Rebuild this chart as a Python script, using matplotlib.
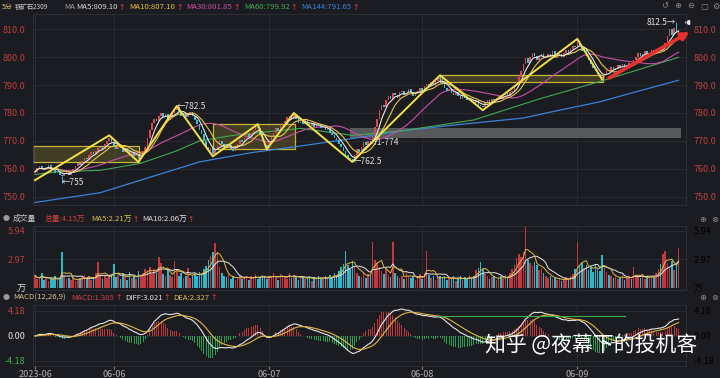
import numpy as np
import pandas as pd
import matplotlib
matplotlib.use('Agg')
import matplotlib.pyplot as plt
from matplotlib.patches import Rectangle

plt.rcParams['font.family'] = ['Noto Sans CJK SC', 'DejaVu Sans']
plt.rcParams['axes.unicode_minus'] = False

# 5-minute closes (index 0 = first bar)
closes = [
    759.0, 760.5, 761.0, 760.0, 759.5, 760.5, 761.5, 760.0, 759.5, 758.5, 759.0, 758.0, 757.5,
    758.5, 759.0, 758.0, 759.5, 760.0, 761.0, 762.0, 761.5,
    763.0, 764.0, 763.5, 765.0, 766.0, 765.5, 766.5, 767.5, 768.0, 767.0, 769.0, 770.0, 771.0,
    769.5, 768.0, 767.0, 768.5, 767.5, 766.0, 767.0, 766.5, 765.0, 766.0, 764.5, 765.5, 763.5,
    765.0, 766.5, 768.0, 771.0, 774.0, 776.5, 778.0, 777.0, 779.0, 780.0, 778.5, 779.5, 777.5, 778.5, 780.0, 781.0, 782.0,
    780.5, 779.0, 780.0, 778.5, 779.5, 780.5, 779.0, 777.5,
    776.0, 774.0, 772.5, 770.0, 768.0, 766.5, 767.5, 765.5,
    767.0, 768.5, 770.0, 769.0, 768.0, 767.5, 768.5, 767.0, 766.5, 768.0,
    769.0, 770.5, 769.5, 771.0, 772.5, 771.5, 773.0, 774.0, 775.0, 774.5,
    772.5, 770.0, 768.5, 768.0,
    770.0, 771.5, 773.0, 774.5, 773.5, 775.5, 776.5, 777.0, 778.5, 779.0, 778.0, 779.5,
    778.0, 776.5, 777.0, 776.0, 777.5, 776.0, 775.5, 776.5, 775.0, 776.0, 775.5, 774.5,
    775.0, 774.0, 774.5, 773.0, 772.0, 771.0, 770.5, 769.0, 768.0, 766.5, 765.0, 764.0, 763.5, 763.0,
    765.0, 767.0, 766.0, 768.0, 769.5, 768.5, 770.0, 769.0,
    772.0, 775.0, 778.0, 781.0, 783.0, 782.0, 784.5,
    786.0, 785.0, 787.0, 786.5, 785.5, 787.5, 788.0, 786.5,
    787.0, 788.5, 787.5, 786.0, 787.0, 788.0, 789.0, 788.0, 789.5, 790.5, 789.5, 791.0, 790.0, 791.5, 792.5, 792.0,
    790.5, 789.0, 788.0, 788.5, 787.0, 786.5, 787.5, 786.0, 785.0, 786.0,
    785.5, 784.5, 785.0, 784.0, 783.5, 784.5, 783.0, 782.5, 782.0,
    783.5, 784.5, 784.0, 785.0, 784.5, 785.5, 786.0, 785.0, 786.5, 787.0, 786.0, 787.5, 788.0,
    789.5, 791.0, 793.0, 795.0, 797.5, 799.5, 798.0, 800.0, 801.5, 800.5, 799.0, 800.5, 801.0, 799.5, 800.0, 801.0, 800.5, 802.0,
    799.5, 800.5, 801.0, 800.0, 801.5, 802.5, 801.5, 803.0, 804.0, 803.5, 805.5,
    804.0, 802.0, 803.0, 800.5, 799.0, 797.5, 796.0, 795.0, 794.0, 793.0, 792.5,
    794.0, 795.5, 795.0, 796.5, 795.5, 796.0, 797.0, 796.5, 797.5, 796.5, 797.0, 798.0, 797.5,
    799.0, 800.0, 801.5, 800.5, 801.0, 802.0, 800.5, 801.5, 802.5, 801.5, 802.0, 803.0, 802.5, 804.0,
    805.0, 807.5, 810.0, 808.0, 810.5, 808.5, 809.5,
]
first_open = 758.5

# volume per bar, in 万 lots
volumes = [
    1.3, 0.9, 1.0, 1.6, 0.8, 1.1, 0.7, 1.0, 0.9, 1.2, 0.8, 1.0, 3.7,
    1.2, 0.9, 1.0, 0.8, 1.1, 0.7, 0.9, 1.0,
    1.1, 1.4, 0.9, 1.3, 0.8, 1.0, 1.6, 2.7, 1.2, 0.9, 1.4, 1.0, 1.3,
    1.5, 2.5, 1.1, 1.4, 0.9, 1.6, 1.2, 0.8, 1.7, 1.0, 1.3, 0.9, 1.8,
    1.4, 1.6, 2.0, 1.8, 2.2, 1.5, 1.9, 1.6, 3.2, 2.6, 1.5, 1.2, 1.9, 1.4, 1.1, 2.8, 2.0,
    1.3, 1.6, 1.0, 1.2, 2.1, 1.0, 1.4, 1.5,
    1.3, 1.7, 1.4, 2.0, 2.3, 2.9, 3.3, 3.7,
    4.7, 3.8, 2.2, 1.6, 1.3, 1.1, 1.5, 0.9, 1.2, 0.8, 1.0, 1.4, 0.9, 1.1, 1.3, 0.8, 1.2, 1.0, 1.5, 0.9,
    1.1, 1.4, 1.2, 0.9,
    1.3, 1.0, 1.6, 1.2, 0.8, 1.5, 1.1, 1.3, 0.9, 1.6, 1.0, 1.4,
    1.2, 0.8, 1.1, 1.3, 0.9, 1.0, 1.2, 0.7, 1.1, 0.9, 1.3, 1.0,
    0.9, 1.2, 1.0, 1.4, 1.1, 1.6, 1.3, 1.8, 2.2, 2.5, 3.9, 2.4, 2.0, 2.8,
    2.2, 1.6, 1.3, 1.1, 1.7, 1.0, 1.5, 1.2,
    4.8, 2.9, 2.6, 2.2, 1.8, 1.5, 2.0,
    1.4, 1.1, 4.8, 1.6, 1.2, 1.0, 1.3, 0.9,
    1.8, 1.2, 1.0, 1.3, 0.8, 1.1, 1.5, 0.9, 1.6, 3.9, 1.4, 1.0, 1.2, 0.8, 1.1, 1.3,
    1.0, 1.2, 0.8, 1.1, 0.9, 1.3, 0.7, 1.0, 1.2, 0.8, 1.1, 0.9, 1.4, 1.0, 1.3, 1.9, 2.1, 2.7, 2.0,
    1.5, 1.2, 0.9, 1.1, 1.3, 0.8, 1.0, 1.2, 0.9, 1.4, 1.1, 1.6, 2.0,
    2.4, 3.1, 3.5, 3.2, 3.8, 6.5, 2.9, 2.6, 2.3, 2.7, 2.4, 1.9, 2.1, 1.6, 1.3, 1.0, 1.2, 0.9,
    1.1, 0.8, 1.0, 0.7, 0.9, 1.1, 0.8, 1.2, 1.5, 2.0, 4.8,
    2.3, 2.6, 2.1, 2.4, 1.9, 2.2, 1.7, 2.5, 2.0, 1.8, 3.4,
    2.1, 1.7, 1.4, 1.2, 1.0, 1.3, 0.9, 1.1, 1.4, 0.8, 1.0, 1.2, 0.9,
    2.2, 1.3, 1.1, 1.0, 1.4, 0.9, 1.2, 1.0, 1.3, 1.1, 1.6, 2.0, 2.5, 3.5,
    3.9, 2.6, 2.2, 2.8, 1.9, 2.4, 4.15,
]
assert len(closes) == len(volumes), (len(closes), len(volumes))

# long moving averages (they need history before the window)
ma60_idx = [0, 10, 29, 47, 63, 73, 88, 118, 141, 162, 195, 224, 252, 286]
ma60_val = [758.0, 759.0, 759.5, 762.0, 766.5, 770.0, 772.0, 774.5, 772.0, 773.5, 777.5, 785.0, 791.5, 799.9]
ma144_idx = [0, 29, 51, 73, 96, 118, 138, 162, 184, 217, 233, 251, 269, 286]
ma144_val = [748.0, 751.5, 757.0, 762.5, 765.8, 768.2, 770.5, 773.5, 775.5, 778.2, 781.0, 784.0, 788.0, 791.7]

# hand-drawn zigzag pivots
zz_idx = [0, 33, 46, 63, 79, 99, 103, 115, 141, 180, 199, 241, 252]
zz_price = [756.0, 772.0, 762.5, 782.5, 764.5, 776.0, 767.0, 780.0, 762.5, 793.5, 781.0, 806.5, 792.0]

# hand-drawn boxes: (start idx, end idx, low, high)
boxes = [(-0.9, 46, 762.5, 768.2), (79, 115.5, 767.1, 776.1), (180, 252.5, 791.1, 793.6)]
gray_zone = (140, 287, 771.0, 774.5)
arrow_from = (254, 792.0)
arrow_to = (292, 809.5)

wick_hi = {63: 782.5, 180: 793.5, 241: 806.5, 285: 812.5}
wick_lo = {12: 755.0, 46: 762.5, 141: 762.5}

date_idx = [0, 35, 104, 172, 241]
date_labels = ['2023-06', '06-06', '06-07', '06-08', '06-09']
price_ticks = [750, 760, 770, 780, 790, 800, 810]

# header rows: (text, colour, gap before in px, font size)
UPC = '#e23b3b'
head_price = [('5分', '#d8c070', 0, 5.0), ('铁矿石2309', '#d0d0d0', 2, 4.6), ('MA', '#a0a0a0', 16, 5.6),
              ('MA5:809.10', '#d8d8d8', 1, 5.6), ('↑', UPC, 1, 5.6), ('MA10:807.10', '#e8c547', 4, 5.6),
              ('↑', UPC, 1, 5.6), ('MA30:801.85', '#c94fa8', 4, 5.6), ('↑', UPC, 1, 5.6),
              ('MA60:799.92', '#43a853', 4, 5.6), ('↑', UPC, 1, 5.6), ('MA144:791.65', '#3b82d6', 4, 5.6),
              ('↑', UPC, 1, 5.6)]
head_vol = [('成交量', '#c8c8c8', 0, 5.6), ('总量:4.15万', '#d04040', 8, 5.6), ('MA5:2.21万', '#d8c050', 6, 5.6),
            ('↑', UPC, 1, 5.6), ('MA10:2.06万', '#e0e0e0', 3, 5.6), ('↑', UPC, 1, 5.6)]
head_macd = [('MACD(12,26,9)', '#d8c090', 0, 5.6), ('MACD:1.389', '#d04040', 6, 5.6), ('↑', UPC, 1, 5.6),
             ('DIFF:3.021', '#e0e0e0', 3, 5.6), ('↑', UPC, 1, 5.6), ('DEA:2.327', '#e0c050', 3, 5.6),
             ('↑', UPC, 1, 5.6)]

BG = '#1b1c21'
GRID = '#2b2d33'
UP = '#e0474c'
DN = '#35c2d2'
RED_TXT = '#b8403f'
ICON = '#8a8a8a'

df = pd.DataFrame({'close': closes, 'vol': volumes})
df['open'] = [first_open] + closes[:-1]
df['up'] = df['close'] >= df['open']
x = np.arange(len(df))

ma5 = df['close'].rolling(5, min_periods=1).mean()
ma10 = df['close'].rolling(10, min_periods=1).mean()
ma30 = df['close'].rolling(30, min_periods=1).mean()
vma5 = df['vol'].rolling(5, min_periods=1).mean()
vma10 = df['vol'].rolling(10, min_periods=1).mean()
ema12 = df['close'].ewm(span=12, adjust=False).mean()
ema26 = df['close'].ewm(span=26, adjust=False).mean()
diff = ema12 - ema26
dea = diff.ewm(span=9, adjust=False).mean()
hist = 2 * (diff - dea)

fig = plt.figure(figsize=(7.2, 3.78), dpi=100, facecolor=BG)
renderer = fig.canvas.get_renderer()


def px_axes(x0, y0, x1, y1):
    ax = fig.add_axes([x0 / 720, 1 - y1 / 378, (x1 - x0) / 720, (y1 - y0) / 378])
    ax.set_facecolor(BG)
    for s in ax.spines.values():
        s.set_color('#303238')
        s.set_linewidth(0.6)
    ax.set_xlim(-0.9, 289.3)
    ax.tick_params(axis='y', left=False, right=False, labelleft=True, labelright=True,
                   labelsize=6.5, pad=2)
    ax.tick_params(axis='x', bottom=False, labelbottom=False)
    for d in date_idx:
        ax.axvline(d, color=GRID, lw=0.6, zorder=0)
    return ax


def ftext(px, py, s, color, size=5.6, **kw):
    return fig.text(px / 720, 1 - py / 378, s, color=color, fontsize=size,
                    va='center', ha='left', **kw)


def chain(px, py, pieces):
    cur = px
    for s, c, gap, size in pieces:
        kw = {'family': ['DejaVu Sans']} if s == '↑' else {}
        t = ftext(cur + gap, py, s, c, size, **kw)
        cur = t.get_window_extent(renderer).x1


# ---------------- price panel
ax = px_axes(33, 14, 686, 205)
ax.set_ylim(747.1, 815.4)
ax.set_yticks(price_ticks)
ax.set_yticklabels(['%.1f' % p for p in price_ticks])
for t in ax.get_yticklabels():
    t.set_color(RED_TXT)
for p in price_ticks:
    ax.axhline(p, color=GRID, lw=0.6, zorder=0)

for (a, b, lo, hi) in boxes:
    ax.add_patch(Rectangle((a, lo), b - a, hi - lo, facecolor='#8a7a2a', alpha=0.35,
                           edgecolor='none', zorder=1))
    ax.add_patch(Rectangle((a, lo), b - a, hi - lo, facecolor='none',
                           edgecolor='#c8b43c', lw=0.9, zorder=1))
g0, g1, glo, ghi = gray_zone
ax.add_patch(Rectangle((g0, glo), g1 - g0, ghi - glo, facecolor='#6e6e70', alpha=0.75,
                       edgecolor='none', zorder=1))

ax.plot(ma144_idx, ma144_val, color='#3b82d6', lw=0.9, zorder=2)
ax.plot(ma60_idx, ma60_val, color='#43a853', lw=0.8, zorder=2)
ax.plot(x, ma30, color='#c94fa8', lw=0.8, zorder=2)

body = (df['close'] - df['open']).abs().clip(lower=0.3)
bottom = df[['close', 'open']].min(axis=1)
colors = [UP if u else DN for u in df['up']]
ax.bar(x, body, bottom=bottom, width=0.7, color=colors, zorder=3)
for i, h in wick_hi.items():
    ax.vlines(i, max(df['close'][i], df['open'][i]), h, color=colors[i], lw=0.7, zorder=3)
for i, l in wick_lo.items():
    ax.vlines(i, l, min(df['close'][i], df['open'][i]), color=colors[i], lw=0.7, zorder=3)

ax.plot(x, ma10, color='#e8c547', lw=0.8, zorder=4)
ax.plot(x, ma5, color='#e6e6e6', lw=0.8, zorder=4)
ax.plot(zz_idx, zz_price, color='#f2e14a', lw=1.4, zorder=5)

ax.annotate('', xy=arrow_to, xytext=arrow_from, annotation_clip=False, zorder=6,
            arrowprops=dict(arrowstyle='-|>', color='#e8302c', lw=2.6, mutation_scale=11))

lab = dict(color='#e0e0e0', fontsize=6, va='center', zorder=7)
ax.text(12, 755.0, '←755', ha='left', **lab)
ax.text(63, 782.5, '←782.5', ha='left', **lab)
ax.text(141, 762.5, '←762.5', ha='left', **lab)
ax.text(150, 769.6, '71-774', ha='left', **lab)
ax.text(285, 812.5, '812.5→', ha='right', **lab)
ax.plot([289.8], [812.5], marker='<', color='#e6e6e6', ms=3, clip_on=False)

# ---------------- volume panel
axv = px_axes(33, 226, 686, 290)
axv.set_ylim(-0.21, 6.46)
axv.bar(x, df['vol'], width=0.7,
        color=['#c23a3f' if u else '#2fb7c9' for u in df['up']], zorder=2)
axv.plot(x, vma10, color='#e6e6e6', lw=0.7, zorder=3)
axv.plot(x, vma5, color='#e0b840', lw=0.7, zorder=3)
axv.set_yticks([0, 2.97, 5.94])
axv.set_yticklabels(['万', '2.97', '5.94'])
for t, c in zip(axv.get_yticklabels(), ['#e0e0e0', RED_TXT, RED_TXT]):
    t.set_color(c)
for v in [2.97, 5.94]:
    axv.axhline(v, color=GRID, lw=0.6, zorder=0)

# ---------------- MACD panel
axm = px_axes(33, 305, 686, 366)
axm.set_ylim(-5.02, 5.18)
axm.bar(x, hist, width=0.45, color=['#b83a3c' if h >= 0 else '#2f9b52' for h in hist], zorder=2)
axm.plot(x, diff, color='#e6e6e6', lw=0.8, zorder=3)
axm.plot(x, dea, color='#e0b840', lw=0.8, zorder=3)
axm.plot([179, 262], [3.35, 3.35], color='#3fae4a', lw=0.8, zorder=4)
axm.set_yticks([-4.18, 0, 4.18])
axm.set_yticklabels(['-4.18', '0.00', '4.18'])
for t, c in zip(axm.get_yticklabels(), ['#3fae4a', '#e0e0e0', RED_TXT]):
    t.set_color(c)
for v in [-4.18, 0, 4.18]:
    axm.axhline(v, color=GRID, lw=0.6, zorder=0)
axm.set_xticks(date_idx)
axm.set_xticklabels(date_labels)
axm.tick_params(axis='x', bottom=True, labelbottom=True, length=2, color='#888888',
                labelcolor='#b0b0b0', labelsize=6.5, pad=1)

# ---------------- headers
chain(2, 7, head_price)
ftext(3, 219, '●', '#9a9a9a', size=5)
chain(13, 219, head_vol)
ftext(3, 298, '●', '#9a9a9a', size=5)
chain(13, 298, head_macd)

# toolbar glyphs on the right
for px, g in zip([661, 674, 687, 700, 712], ['↺', '⊕', '⊖', '▢', '⚙']):
    ftext(px, 6, g, ICON, size=6, family=['DejaVu Sans'])
for py in [219, 298]:
    for px, g in zip([699, 711], ['⊕', '⊗']):
        ftext(px, py, g, ICON, size=6, family=['DejaVu Sans'])

ftext(485, 345, '知乎 @夜幕下的投机客', '#ffffff', size=15)

fig.savefig('out.png', dpi=100, facecolor=BG)
